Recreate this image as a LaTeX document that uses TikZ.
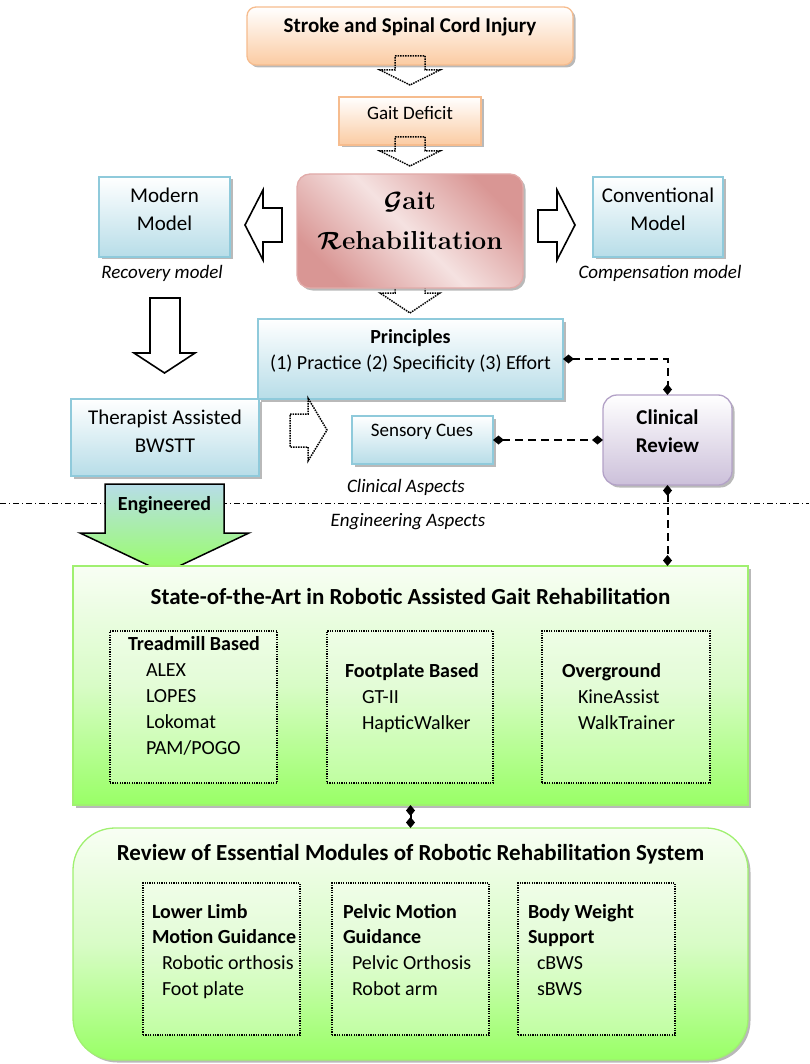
\documentclass[tikz,border=0pt]{standalone}
\usepackage{fontspec}
\setsansfont{Carlito}
\usetikzlibrary{shadows,arrows.meta,calc}
\definecolor{peachB}{HTML}{FBCBA2}
\definecolor{peachD}{HTML}{F6BC8E}
\definecolor{blueB}{HTML}{B7DDE8}
\definecolor{blueD}{HTML}{8FCADB}
\definecolor{lavB}{HTML}{CCC0DA}
\definecolor{lavD}{HTML}{B3A2C7}
\definecolor{pinkD}{HTML}{D99694}
\definecolor{pinkL}{HTML}{F5E2E1}
\definecolor{grnB}{HTML}{99FF66}
\definecolor{grnM}{HTML}{D8FCC6}
\definecolor{grnT}{HTML}{F8FEF4}
\definecolor{grnD}{HTML}{A0F070}
\begin{document}
\begin{tikzpicture}[x=1pt,y=-1pt,
  every node/.style={inner sep=0pt,outer sep=0pt},
  shad/.style={drop shadow={shadow xshift=2.5pt,shadow yshift=-2.5pt,fill=black!50,opacity=0.55}},
  peachbox/.style={draw=peachD,line width=1.3pt,top color=white,bottom color=peachB,shad},
  bluebox/.style={draw=blueD,line width=1.3pt,top color=white,bottom color=blueB,shad},
  lavbox/.style={draw=lavD,line width=1.3pt,top color=white,bottom color=lavB,shad,rounded corners=14pt},
  pinkbox/.style={draw=pinkD!80,line width=1.3pt,left color=pinkD,right color=pinkD,middle color=pinkL,shading angle=135,shad,rounded corners=13pt},
  greenbox/.style={draw=grnD,line width=1.3pt,top color=grnT,bottom color=grnB,middle color=grnM,shad},
  dotbox/.style={draw,line width=1.2pt,dash pattern=on 1.2pt off 1.2pt,fill=white,fill opacity=0.3},
  blockarrow/.style={draw,line width=1.6pt,fill=white,line join=miter},
  dotarrow/.style={draw,line width=1.5pt,dash pattern=on 1.5pt off 1pt},
  conn/.style={line width=2pt,dash pattern=on 8pt off 5pt,{Diamond[length=11pt,width=9pt]}-{Diamond[length=11pt,width=9pt]}},
  tr/.style={font=\sffamily\fontsize{21}{28}\selectfont,align=center},
  ts/.style={font=\sffamily\fontsize{19}{26}\selectfont,align=center},
  tb/.style={font=\sffamily\bfseries\fontsize{21}{28}\selectfont,align=center},
  tt/.style={font=\sffamily\bfseries\fontsize{23}{28}\selectfont,align=center},
  ti/.style={font=\sffamily\itshape\fontsize{19}{26}\selectfont,align=center},
  lh/.style={font=\sffamily\bfseries\fontsize{20}{26}\selectfont,anchor=base west},
  li/.style={font=\sffamily\fontsize{20}{26}\selectfont,anchor=base west}
]
\useasboundingbox (0,0) rectangle (809,1064);

% dotted arrow under the Gait Rehabilitation box
\draw[dotarrow] (395,285) -- (425,285) -- (425,293) -- (440,293) -- (410,313) -- (380,293) -- (395,293) -- cycle;

% boxes
\node[peachbox,rounded corners=9pt,minimum width=326pt,minimum height=58pt] (stroke) at (410,36) {};
\node[peachbox,minimum width=142pt,minimum height=48pt] (deficit) at (410,121) {};
\node[pinkbox,minimum width=226pt,minimum height=114pt] (gait) at (410,231) {};
\node[bluebox,minimum width=131pt,minimum height=80pt] (modern) at (164.5,217) {};
\node[bluebox,minimum width=130pt,minimum height=80pt] (conv) at (658,217) {};
\node[bluebox,minimum width=305pt,minimum height=80pt] (prin) at (410.5,359) {};
\node[bluebox,minimum width=188pt,minimum height=77pt] (ther) at (165,437.5) {};
\node[bluebox,minimum width=141pt,minimum height=48pt] (sens) at (422.5,440) {};
\node[lavbox,minimum width=129pt,minimum height=90pt] (clin) at (667.5,440) {};

% texts
\node[tb] (strokeT) at (410,27) {Stroke and Spinal Cord Injury};
\node[ts] (deficitT) at (410,113) {Gait Deficit};
\node[font=\rmfamily\bfseries\fontsize{26}{40}\selectfont,align=center] (gaitT) at (410,221) {{\boldmath$\mathcal{G}$}ait\\{\boldmath$\mathcal{R}$}ehabilitation};
\node[tr] (modernT) at (164.5,209) {Modern\\Model};
\node[tr] (convT) at (658,209) {Conventional\\Model};
\node[ti] (recT) at (162,273) {Recovery model};
\node[ti] (compT) at (660,273) {Compensation model};
\node[font=\sffamily\fontsize{20}{26}\selectfont,align=center] (prinT) at (410.5,351) {\textbf{Principles}\\(1) Practice (2) Specificity (3) Effort};
\node[tr] (therT) at (165,431) {Therapist Assisted\\BWSTT};
\node[ts] (sensT) at (422,432) {Sensory Cues};
\node[tb] (clinT) at (667.5,431) {Clinical\\Review};
\node[ti] (clinA) at (406,487) {Clinical Aspects};
\node[ti] (engA) at (408,522) {Engineering Aspects};

% block arrows
\draw[dotarrow] (395,56) -- (425,56) -- (425,70) -- (440,70) -- (410,85) -- (380,70) -- (395,70) -- cycle;
\draw[dotarrow] (395,137) -- (425,137) -- (425,151) -- (440,151) -- (410,166) -- (380,151) -- (395,151) -- cycle;
\draw[blockarrow] (245,225) -- (263,190) -- (263,208) -- (282,208) -- (282,242) -- (263,242) -- (263,260) -- cycle;
\draw[blockarrow] (575,225) -- (557,190) -- (557,210) -- (538,210) -- (538,242) -- (557,242) -- (557,260) -- cycle;
\draw[blockarrow] (150,298) -- (180,298) -- (180,353) -- (195,353) -- (164.5,373) -- (134,353) -- (150,353) -- cycle;
\draw[dotarrow] (290,414) -- (308,414) -- (308,398) -- (327,430) -- (308,461) -- (308,447) -- (290,447) -- cycle;

% divider
\coordinate (divL) at (0,503);
\coordinate (divR) at (809,503);
\draw[line width=0.8pt,dash pattern=on 6pt off 3pt on 1pt off 3pt] (divL) -- (divR);

% engineered arrow
\draw[line width=1.5pt,top color=blueB,bottom color=grnB,line join=miter] (105,484) -- (224,484) -- (224,533) -- (249,533) -- (164.5,573) -- (80,533) -- (105,533) -- cycle;
\node[font=\sffamily\bfseries\fontsize{20}{28}\selectfont] (engT) at (164.5,505) {Engineered};

% state of the art
\node[greenbox,minimum width=675pt,minimum height=239pt] (sota) at (410.5,685.5) {};
\node[tt] (sotaT) at (410.5,596) {State-of-the-Art in Robotic Assisted Gait Rehabilitation};
\node[dotbox,minimum width=167pt,minimum height=152pt] (b1) at (193.5,707) {};
\node[dotbox,minimum width=166pt,minimum height=152pt] (b2) at (410,707) {};
\node[dotbox,minimum width=168pt,minimum height=152pt] (b3) at (626,707) {};
\node[lh] (b1h) at (128,650) {Treadmill Based};
\node[li] (b1a) at (146,676) {ALEX};
\node[li] (b1b) at (146,702) {LOPES};
\node[li] (b1c) at (146,728) {Lokomat};
\node[li] (b1d) at (146,754) {PAM/POGO};
\node[lh] (b2h) at (345,677) {Footplate Based};
\node[li] (b2a) at (362,703) {GT-II};
\node[li] (b2b) at (362,729) {HapticWalker};
\node[lh] (b3h) at (562,677) {Overground};
\node[li] (b3a) at (578,703) {KineAssist};
\node[li] (b3b) at (578,729) {WalkTrainer};

% review of modules
\node[greenbox,rounded corners=42pt,minimum width=675pt,minimum height=232pt] (rev) at (410.5,944) {};
\node[tt] (revT) at (410.5,854) {Review of Essential Modules of Robotic Rehabilitation System};
\node[dotbox,minimum width=157pt,minimum height=152pt] (c1) at (221.5,959) {};
\node[dotbox,minimum width=157pt,minimum height=152pt] (c2) at (410.5,959) {};
\node[dotbox,minimum width=157pt,minimum height=152pt] (c3) at (596.5,959) {};
\node[lh] (c1h) at (152,918) {Lower Limb};
\node[lh] (c1i) at (152,943) {Motion Guidance};
\node[li] (c1a) at (162,969) {Robotic orthosis};
\node[li] (c1b) at (162,995) {Foot plate};
\node[lh] (c2h) at (343,918) {Pelvic Motion};
\node[lh] (c2i) at (343,943) {Guidance};
\node[li] (c2a) at (352,969) {Pelvic Orthosis};
\node[li] (c2b) at (352,995) {Robot arm};
\node[lh] (c3h) at (528,918) {Body Weight};
\node[lh] (c3i) at (528,943) {Support};
\node[li] (c3a) at (537,969) {cBWS};
\node[li] (c3b) at (537,995) {sBWS};

% connectors
\draw[conn] (prin.east) -| (clin.north);
\draw[conn] (sens.east) -- (clin.west);
\draw[conn] (clin.south) -- (clin.south |- sota.north);
\draw[conn] (sota.south) -- (rev.north);
\end{tikzpicture}
\end{document}
